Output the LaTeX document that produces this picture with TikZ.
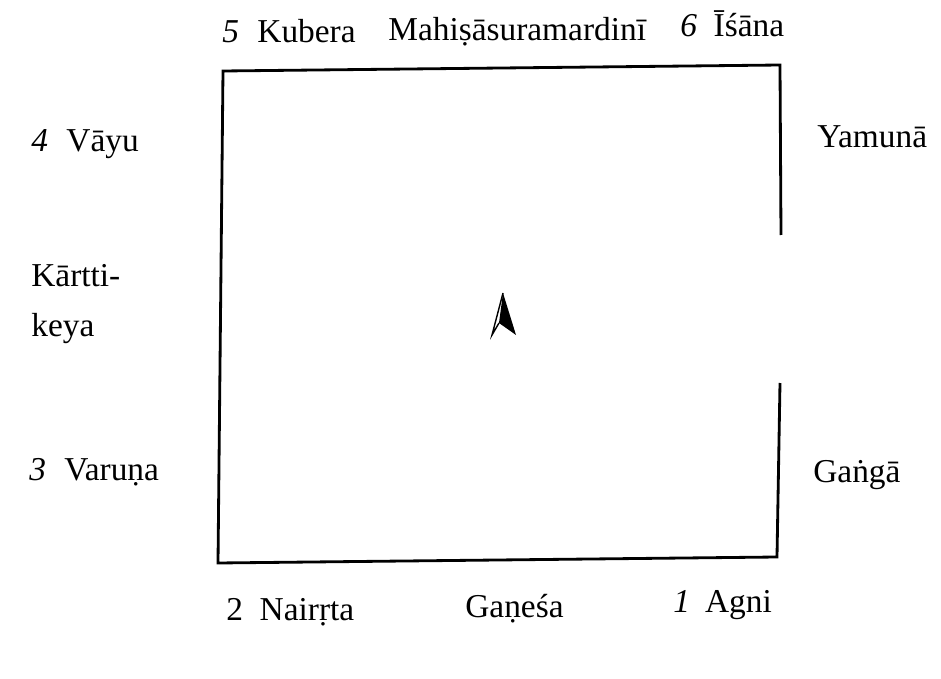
\documentclass[tikz,border=0pt]{standalone}
\usepackage{fontspec}
\setmainfont{Liberation Serif}
\begin{document}
\begin{tikzpicture}[x=0.02cm,y=-0.02cm,
  lbl/.style={anchor=base west,inner sep=0pt,font=\rmfamily\fontsize{19}{22}\selectfont},
  wall/.style={line width=1.6pt,line join=miter}]
\useasboundingbox (0,0) rectangle (941,679);

\draw[wall] (781,235) -- (780,65) -- (223,71) -- (218,563) -- (777,557) -- (780,383); %Mauer, rechts offen

% Pfeil
\draw[thick,line join=miter] (503,293) -- (492,335) -- (499,323);
\fill (503,293) -- (516,335) -- (499,323) -- cycle;

\node[lbl] (kubera) at (222,43) {\textit{5}\hspace{0.55em}Kubera};
\node[lbl] (mahisa) at (388,41) {Mahiṣāsuramardinī};
\node[lbl] (isana) at (680,37) {\textit{6}\hspace{0.5em}Īśāna};

\node[lbl] (vayu) at (31,152) {\textit{4}\hspace{0.55em}Vāyu};
\node[lbl] (kartti) at (31,287) {Kārtti-};
\node[lbl] (keya) at (31,337) {keya};
\node[lbl] (varuna) at (29,480) {\textit{3}\hspace{0.55em}Varuṇa};

\node[lbl] (yamuna) at (817,148) {Yamunā};
\node[lbl] (ganga) at (813,482) {Gaṅgā};

\node[lbl] (nairrta) at (226,620) {2\hspace{0.5em}Nairṛta};
\node[lbl] (ganesa) at (465,617) {Gaṇeśa};
\node[lbl] (agni) at (673,612) {\textit{1}\hspace{0.45em}Agni};

\end{tikzpicture}
\end{document}
